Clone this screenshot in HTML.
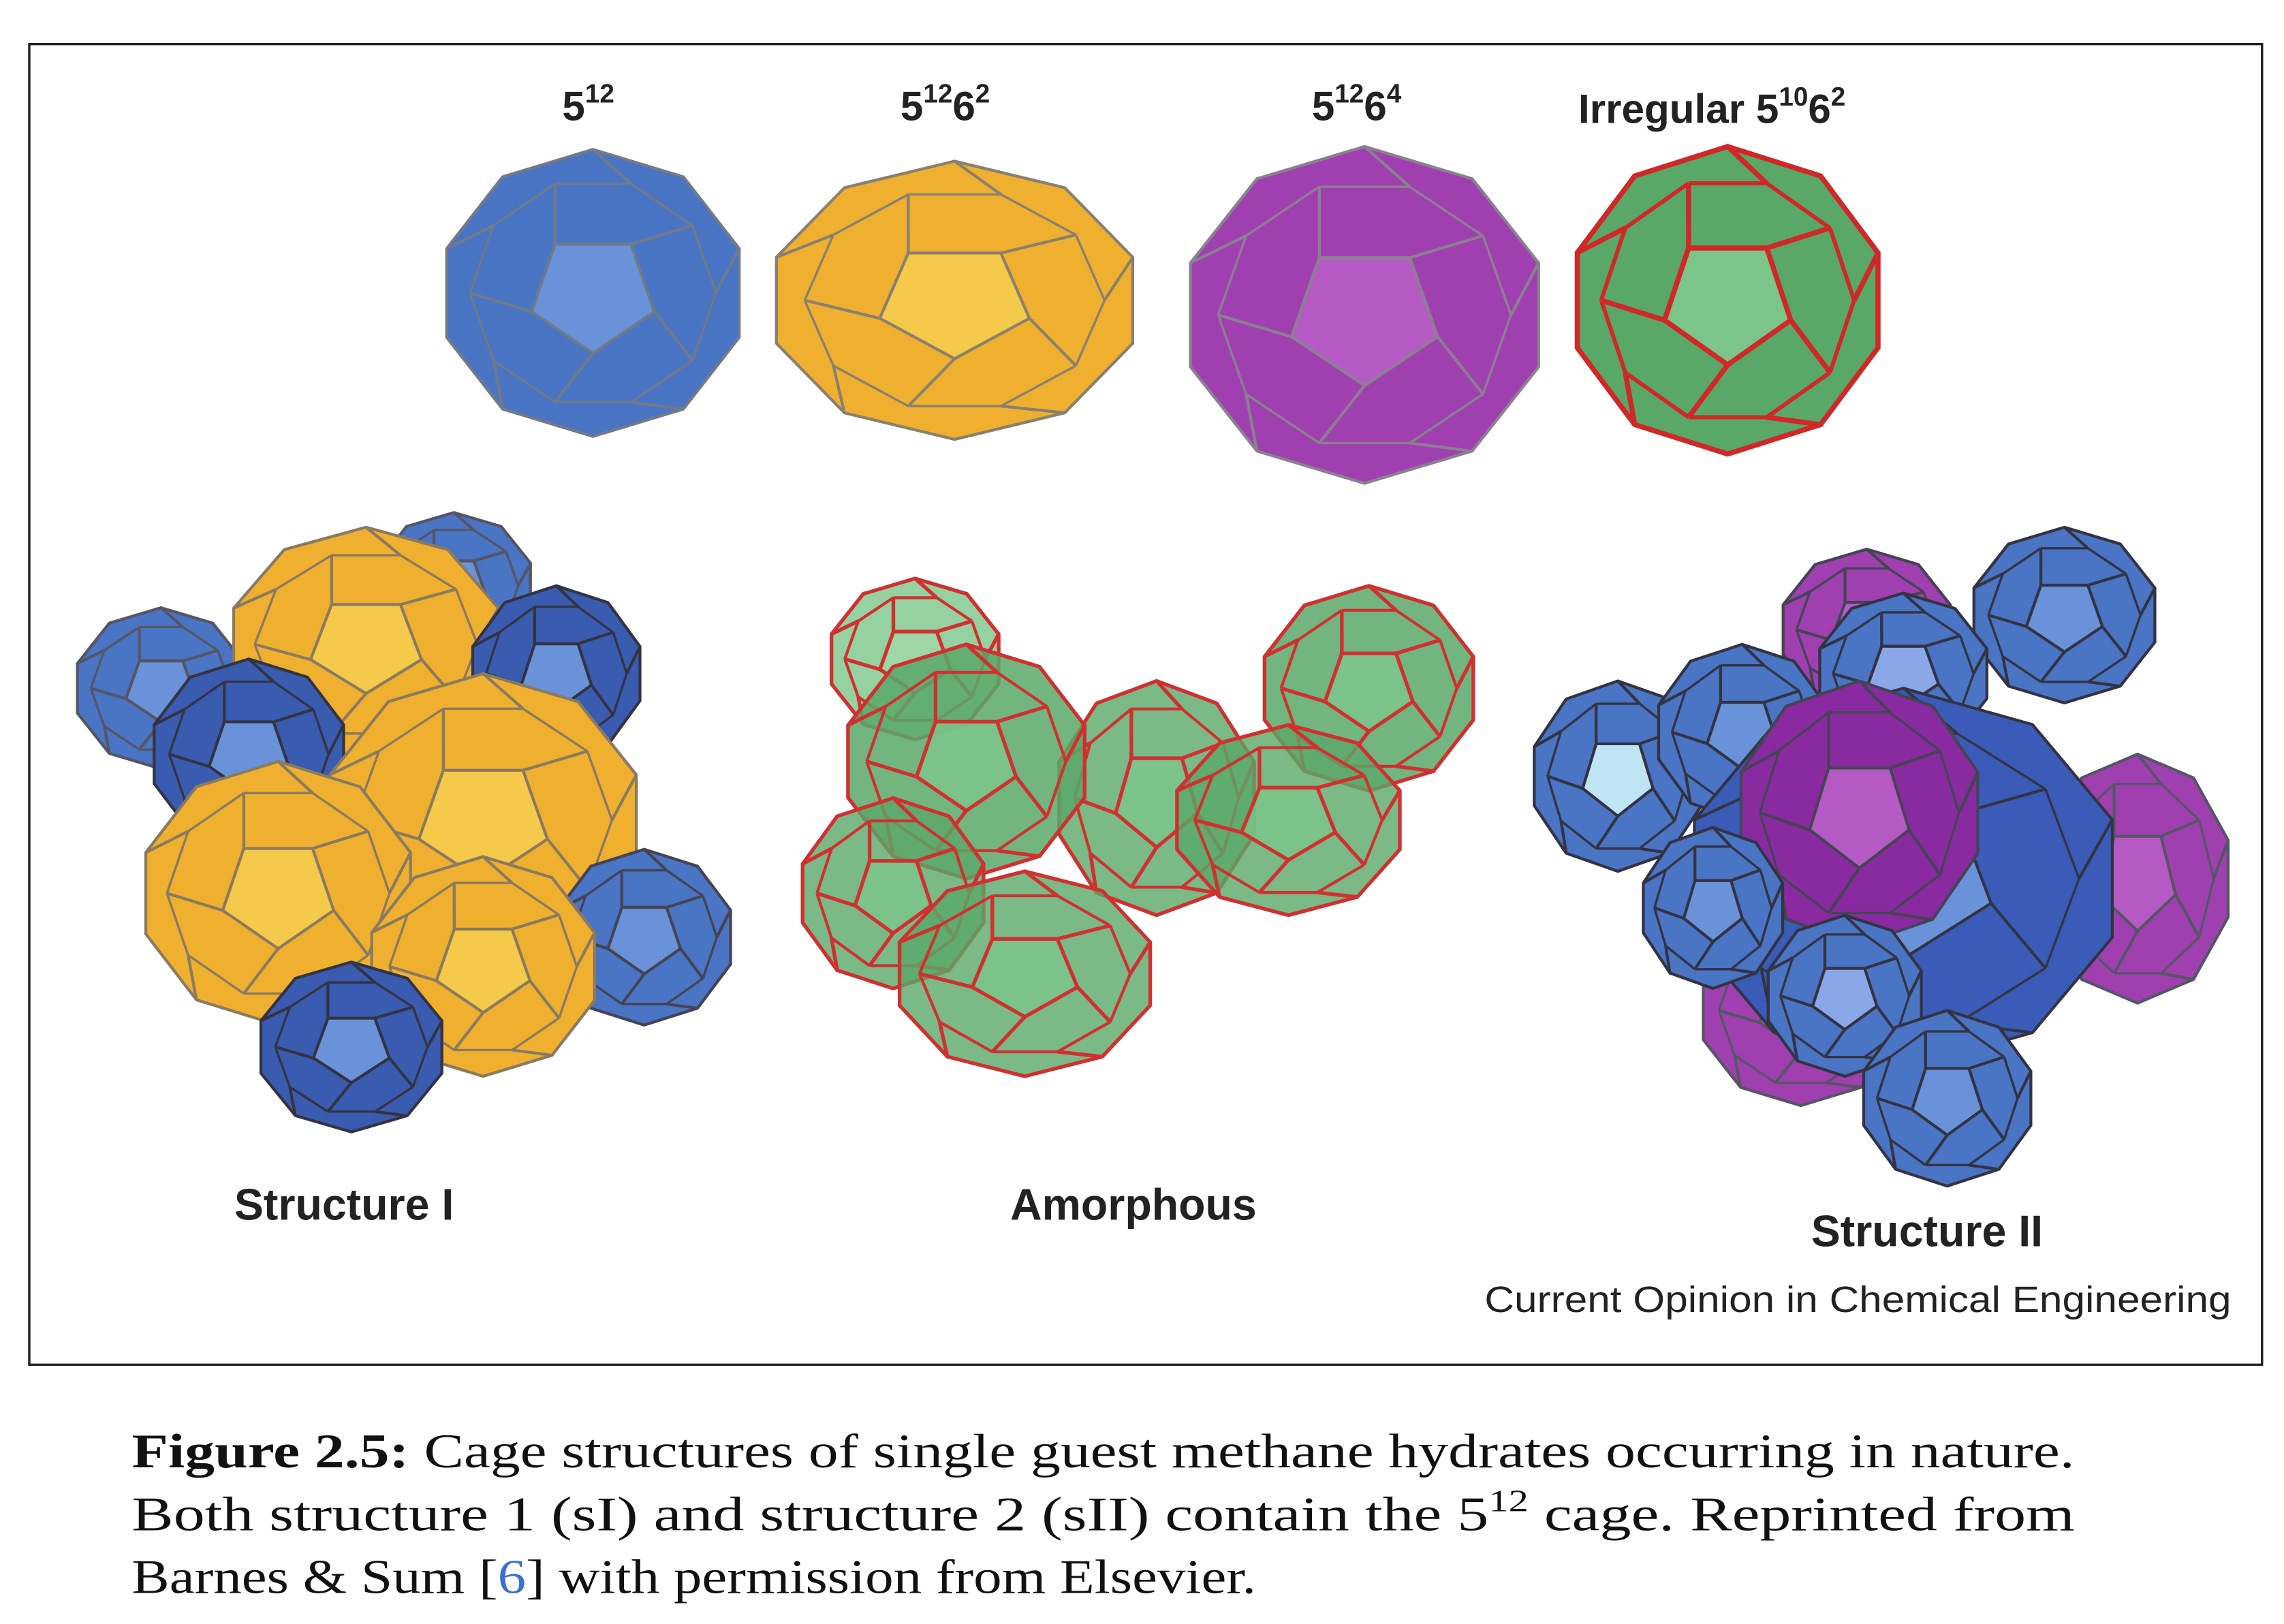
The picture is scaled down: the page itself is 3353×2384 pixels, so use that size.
<!DOCTYPE html>
<html><head><meta charset="utf-8"><style>
html,body{margin:0;padding:0;background:#fff}
svg{display:block}
</style></head><body>
<svg width="3353" height="2384" viewBox="0 0 1560 1109" xmlns="http://www.w3.org/2000/svg">
<rect x="20" y="30" width="1525" height="902" fill="#fff" stroke="#222" stroke-width="1.6"/>
<g id="cages"></g>
<g font-family="Liberation Sans, sans-serif" font-weight="bold" fill="#222">
<text x="384" y="82" font-size="28">5<tspan font-size="18" dy="-12">12</tspan></text>
<text x="615" y="82" font-size="28">5<tspan font-size="18" dy="-12">12</tspan><tspan dy="12">6</tspan><tspan font-size="18" dy="-12">2</tspan></text>
<text x="896" y="82" font-size="28">5<tspan font-size="18" dy="-12">12</tspan><tspan dy="12">6</tspan><tspan font-size="18" dy="-12">4</tspan></text>
<text x="1078" y="84" font-size="28">Irregular 5<tspan font-size="18" dy="-12">10</tspan><tspan dy="12">6</tspan><tspan font-size="18" dy="-12">2</tspan></text>
<text x="160" y="833" font-size="30">Structure I</text>
<text x="690" y="833" font-size="30">Amorphous</text>
<text x="1237" y="851" font-size="30">Structure II</text>
</g>
<text x="1524" y="896" text-anchor="end" font-family="Liberation Sans, sans-serif" font-size="25" fill="#222" textLength="510" lengthAdjust="spacingAndGlyphs">Current Opinion in Chemical Engineering</text>
<g font-family="Liberation Serif, serif" font-size="33" fill="#111">
<text x="90" y="1002" textLength="1327" lengthAdjust="spacingAndGlyphs"><tspan font-weight="bold">Figure 2.5:</tspan> Cage structures of single guest methane hydrates occurring in nature.</text>
<text x="90" y="1045" textLength="1327" lengthAdjust="spacingAndGlyphs">Both structure 1 (sI) and structure 2 (sII) contain the 5<tspan font-size="21" dy="-13">12</tspan><tspan dy="13"> cage.  Reprinted from</tspan></text>
<text x="90" y="1088" textLength="768" lengthAdjust="spacingAndGlyphs">Barnes &amp; Sum [<tspan fill="#3a6fd8">6</tspan>] with permission from Elsevier.</text>
</g>
</svg>
<script>
const g=document.getElementById('cages');
const NS='http://www.w3.org/2000/svg';
function poly(pts,fill,stroke,sw,op){const p=document.createElementNS(NS,'polygon');p.setAttribute('points',pts.map(a=>a[0].toFixed(1)+','+a[1].toFixed(1)).join(' '));p.setAttribute('fill',fill);p.setAttribute('stroke',stroke);p.setAttribute('stroke-width',sw);if(op)p.setAttribute('fill-opacity',op);


g.appendChild(p);}
function line(a,b,stroke,sw){const l=document.createElementNS(NS,'line');l.setAttribute('x1',a[0]);l.setAttribute('y1',a[1]);l.setAttribute('x2',b[0]);l.setAttribute('y2',b[1]);l.setAttribute('stroke',stroke);l.setAttribute('stroke-width',sw);


g.appendChild(l);}
function cage(cx,cy,rx,ry,fill,light,edge,sw,op){
  const o=[],m=[],p=[];
  for(let i=0;i<10;i++){const a=Math.PI*2*i/10-Math.PI/2;o.push([cx+rx*Math.cos(a),cy+ry*Math.sin(a)]);}
  for(let i=0;i<10;i++){const a=Math.PI*2*i/10-Math.PI/2+Math.PI/10;m.push([cx+rx*0.8*Math.cos(a),cy+ry*0.8*Math.sin(a)]);}
  for(let i=0;i<5;i++){const a=Math.PI*2*i/5+Math.PI/2;p.push([cx+rx*0.42*Math.cos(a),cy+ry*0.42*Math.sin(a)]);}
  poly(o,fill,edge,sw,op);
  poly(p,light,edge,sw,op);
  for(let i=0;i<10;i++){if(i%2==0) line(m[i],o[i],edge,sw); }
  for(let i=0;i<5;i++){line(p[i],m[(2*i+5)%10],edge,sw);}
  for(let i=0;i<10;i++)line(m[i],m[(i+1)%10],edge,sw*0.8);
}
const B='#4a74c4',BL='#6a92d8',Y='#efb030',YL='#f5c94a',P='#a040b0',PL='#b55ac4',G='#5aa868',GL='#7cc58a';
cage(405,200,105,98,B,BL,'#707a88',2);
cage(652,205,128,95,Y,YL,'#8a8070',2);
cage(932,215,125,115,P,PL,'#8a8090',2);
cage(1180,205,108,105,G,GL,'#d02828',3.5);
cage(110,470,60,55,B,BL,'#556',2);
cage(310,400,55,50,B,BL,'#556',2);
cage(250,440,95,80,Y,YL,'#8a7a60',2);
cage(380,460,60,60,'#3a5cb0',BL,'#334',2);
cage(170,515,68,65,'#3a5cb0',BL,'#334',2);
cage(330,560,110,100,Y,YL,'#8a7a60',2);
cage(190,610,95,90,Y,YL,'#8a7a60',2);
cage(440,640,62,60,B,BL,'#445',2);
cage(330,660,80,75,Y,YL,'#8a7a60',2);
cage(240,715,65,58,'#3a5cb0',BL,'#334',2);
cage(625,450,60,55,GL,'#a0d8a8','#d03030',2.5,0.8);
cage(935,470,75,70,G,GL,'#d03030',2.5,0.85);
cage(790,545,70,80,G,GL,'#d03030',2.5,0.8);
cage(660,520,85,80,G,GL,'#d03030',2.5,0.85);
cage(880,560,80,65,G,GL,'#d03030',2.5,0.8);
cage(610,610,65,65,G,GL,'#d03030',2.5,0.8);
cage(700,665,90,70,G,GL,'#d03030',2.5,0.8);
cage(1105,530,60,65,B,'#bfe4f4','#334',2);
cage(1275,430,60,55,P,PL,'#445',2);
cage(1410,420,65,60,B,BL,'#334',2);
cage(1190,500,60,60,B,BL,'#334',2);
cage(1300,460,60,55,B,'#8aa8e8','#334',2);
cage(1460,600,65,85,P,PL,'#556',2);
cage(1230,690,70,65,P,PL,'#556',2);
cage(1300,600,150,130,'#3a5cb8',BL,'#334',2);
cage(1270,555,85,90,'#8a2aa0',PL,'#445',2);
cage(1170,620,50,55,B,BL,'#334',2);
cage(1260,680,55,55,B,'#8aa8e8','#334',2);
cage(1330,750,60,60,B,BL,'#334',2);
</script>
</body></html>
